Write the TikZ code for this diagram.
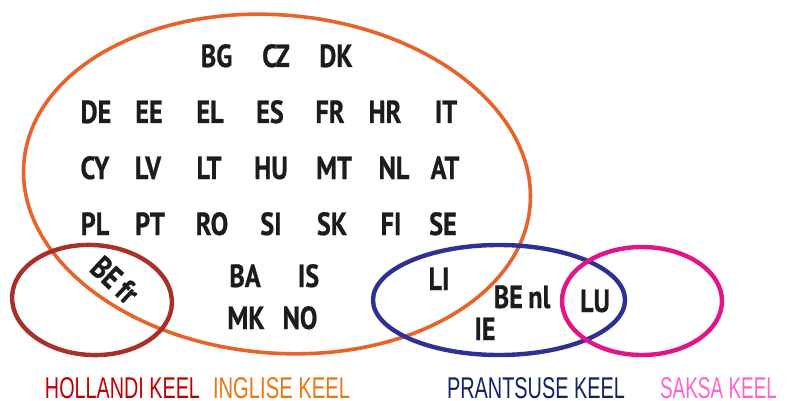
\documentclass[tikz,border=0pt]{standalone}
\usepackage{fontspec}
\usepackage{graphicx}
\setmainfont{PT Sans}
\newfontfamily\ccfont[FakeStretch=0.82,FakeBold=0.6]{PT Sans}
\IfFontExistsTF{FiraSans-Light.otf}{\newfontfamily\thinfont[FakeStretch=0.8]{FiraSans-Light.otf}}{\newfontfamily\thinfont[FakeStretch=0.8]{Liberation Sans}}
\definecolor{orng}{RGB}{232,98,44}
\definecolor{hred}{RGB}{166,48,42}
\definecolor{fblue}{RGB}{46,49,146}
\definecolor{dpink}{RGB}{226,20,135}
\definecolor{txt}{RGB}{28,28,28}
\definecolor{lhol}{RGB}{192,0,0}
\definecolor{ling}{RGB}{232,120,20}
\definecolor{lfra}{RGB}{20,35,100}
\definecolor{lsak}{RGB}{255,100,200}
\begin{document}
\begin{tikzpicture}[x=1pt,y=-1pt,
  cc/.style={font=\ccfont\bfseries\fontsize{32}{32}\selectfont, text=txt, inner sep=0pt, anchor=base},
  lang/.style={font=\thinfont\fontsize{30}{30}\selectfont, inner sep=0pt, anchor=base},
  ring/.style={line width=4.4pt}]
\useasboundingbox (0,0) rectangle (787,401);
\fill[white] (0,0) rectangle (787,401);
% ellipses
\draw[orng, line width=3.6pt, rotate around={-5:(277,184)}] (277,184) ellipse [x radius=254, y radius=169];
\draw[hred, ring, rotate around={-3:(92,300)}] (92,300) ellipse [x radius=80, y radius=55];
\draw[fblue, ring] (499,300) ellipse [x radius=126, y radius=55];
\draw[dpink, ring] (642,301) ellipse [x radius=80, y radius=54];
% row 1
\node[cc] (bg) at (216.5,67) {BG};
\node[cc] (cz) at (276,67) {CZ};
\node[cc] (dk) at (336,67) {DK};
% row 2
\node[cc] (de) at (96,123) {DE};
\node[cc] (ee) at (149,123) {EE};
\node[cc] (el) at (210,123) {EL};
\node[cc] (es) at (270,123) {ES};
\node[cc] (fr) at (330,123) {FR};
\node[cc] (hr) at (385,123) {HR};
\node[cc] (it) at (446,123) {IT};
% row 3
\node[cc] (cy) at (95,179) {CY};
\node[cc] (lv) at (148,179) {LV};
\node[cc] (lt) at (209,179) {LT};
\node[cc] (hu) at (271,179) {HU};
\node[cc] (mt) at (334,179) {MT};
\node[cc] (nl) at (394,179) {NL};
\node[cc] (at) at (445,179) {AT};
% row 4
\node[cc] (pl) at (95,235) {PL};
\node[cc] (pt) at (150,235) {PT};
\node[cc] (ro) at (212,235) {RO};
\node[cc] (si) at (271,235) {SI};
\node[cc] (sk) at (332,235) {SK};
\node[cc] (fi) at (391,235) {FI};
\node[cc] (se) at (443,235) {SE};
% non-EU
\node[cc] (ba) at (245,287) {BA};
\node[cc] (is) at (308.5,287) {IS};
\node[cc] (mk) at (246,329) {MK};
\node[cc] (no) at (300,329) {NO};
% others
\node[cc, anchor=center, rotate=-43] (befr) at (115,280) {BE\,fr};
\node[cc] (li) at (439,290) {LI};
\node[cc] (benl) at (522,308) {BE\,nl};
\node[cc] (ie) at (485,340) {IE};
\node[cc] (lu) at (595,312) {LU};
% language labels
\node[lang, text=lhol] (lhol) at (122.5,398) {\resizebox{155pt}{\height}{HOLLANDI KEEL}};
\node[lang, text=ling] (ling) at (281.5,398) {\resizebox{137pt}{\height}{INGLISE KEEL}};
\node[lang, text=lfra] (lfra) at (536,398) {\resizebox{178pt}{\height}{PRANTSUSE KEEL}};
\node[lang, text=lsak] (lsak) at (718.5,398) {\resizebox{117pt}{\height}{SAKSA KEEL}};
\end{tikzpicture}
\end{document}
